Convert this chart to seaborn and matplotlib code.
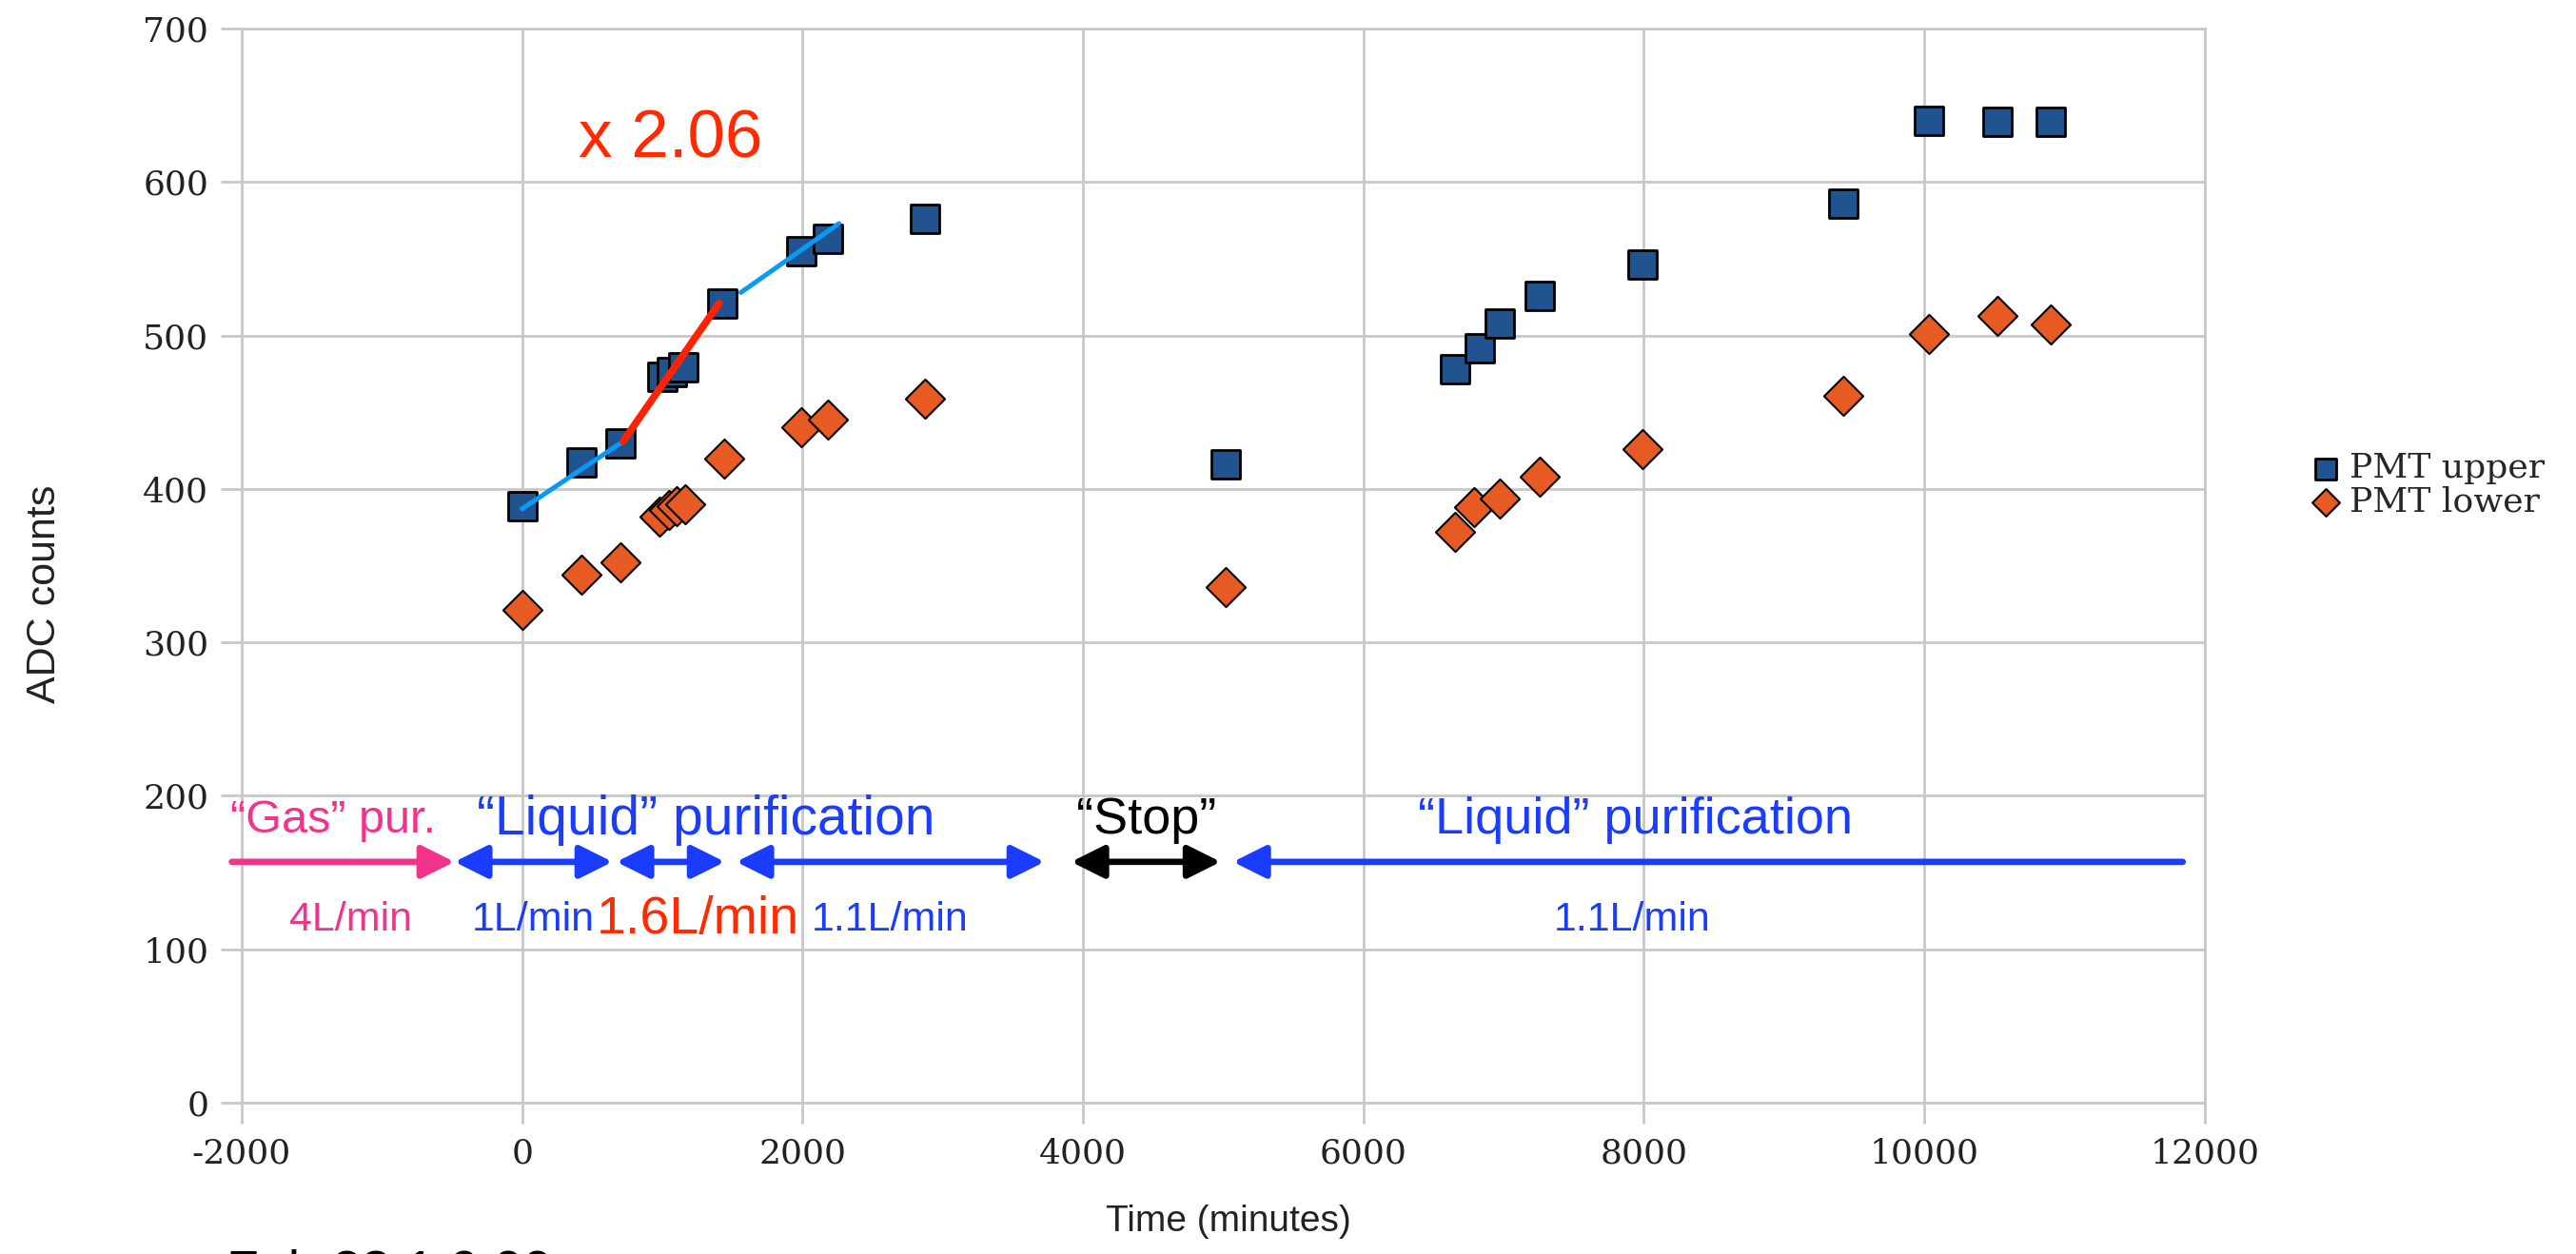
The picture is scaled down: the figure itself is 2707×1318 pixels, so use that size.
import matplotlib
matplotlib.use("Agg")
import matplotlib.pyplot as plt
import pandas as pd
import seaborn as sns

# data
upper_time = [0, 420, 700, 1000, 1070, 1150, 1430, 1990, 2180, 2870, 5020,
              6650, 6830, 6970, 7260, 7990, 9420, 10030, 10520, 10900]
upper_adc = [389, 417, 430, 473, 476, 479, 521, 555, 563, 576, 416,
             478, 492, 508, 526, 546, 586, 640, 639, 639]
lower_time = [0, 420, 700, 980, 1045, 1100, 1160, 1440, 1990, 2180, 2870, 5020,
              6650, 6790, 6970, 7260, 7990, 9420, 10030, 10520, 10900]
lower_adc = [321, 344, 352, 382, 386, 389, 390, 420, 440, 445, 459, 336,
             372, 388, 394, 408, 426, 461, 501, 513, 507]

# hand-drawn slope segments
fit_blue_a_x = [0, 705]
fit_blue_a_y = [387, 430]
fit_red_x = [720, 1405]
fit_red_y = [431, 521]
fit_blue_b_x = [1560, 2260]
fit_blue_b_y = [528, 573]

# phase arrows: (start, end, colour, style)
arrow_y = 157
phase_arrows = [
    (-2070, -482, "#f0348c", "-|>"),
    (-482, 645, "#1a3cff", "<|-|>"),
    (672, 1446, "#1a3cff", "<|-|>"),
    (1527, 3726, "#1a3cff", "<|-|>"),
    (3916, 4982, "black", "<|-|>"),
    (5070, 11843, "#1a3cff", "<|-"),
]
phase_labels = ["\u201cGas\u201d pur.", "\u201cLiquid\u201d purification", "\u201cStop\u201d",
                "\u201cLiquid\u201d purification"]
phase_label_x = [-2080, 1310, 4450, 7940]
phase_label_size = [35, 41, 39, 39]
phase_label_colors = ["#f0348c", "#1a3cff", "black", "#1a3cff"]
flow_labels = ["4L/min", "1L/min", "1.6L/min", "1.1L/min", "1.1L/min"]
flow_x = [-1220, 80, 1255, 2620, 7915]
flow_colors = ["#f0348c", "#1a3cff", "#ff2a00", "#1a3cff", "#1a3cff"]

sns.set_theme(style="whitegrid")
plt.rcParams["font.family"] = ["DejaVu Serif"]
plt.rcParams["axes.unicode_minus"] = False

fig = plt.figure(figsize=(27.07, 13.18), dpi=100)
ax = fig.add_axes([0.0938, 0.1206, 0.7621, 0.8566])

sns.scatterplot(x=upper_time, y=upper_adc, marker="s", color="#21548f", s=470,
                edgecolor="black", linewidth=2, label="PMT upper", ax=ax, zorder=3)
sns.scatterplot(x=lower_time, y=lower_adc, marker="D", color="#e85a24", s=440,
                edgecolor="black", linewidth=1.5, label="PMT lower", ax=ax, zorder=3)

sns.lineplot(x=fit_blue_a_x, y=fit_blue_a_y, color="#0a9af5", lw=3.6, ax=ax, zorder=4)
sns.lineplot(x=fit_red_x, y=fit_red_y, color="#ff2200", lw=5.5, ax=ax, zorder=4)
sns.lineplot(x=fit_blue_b_x, y=fit_blue_b_y, color="#0a9af5", lw=3.6, ax=ax, zorder=4)

ax.set_xlim(-2000, 12000)
ax.set_ylim(0, 700)
ax.set_xticks(range(-2000, 12001, 2000))
ax.set_yticks(range(0, 701, 100))
ax.grid(True, color="#c8c8c8", lw=2)
for sp in ax.spines.values():
    sp.set_color("#c8c8c8")
    sp.set_linewidth(2)
ax.tick_params(axis="both", length=16, width=2, color="#c8c8c8", labelsize=26,
               labelcolor="#222222", direction="out", bottom=True, left=True)
ax.tick_params(axis="y", pad=9)
ax.tick_params(axis="x", pad=10)
ax.set_xlabel("")
ax.set_ylabel("")

sans = ["Liberation Sans", "DejaVu Sans"]
fig.text(0.477, 0.026, "Time (minutes)", family=sans, fontsize=28, ha="center", va="center",
         color="#222222")
fig.text(0.0175, 0.526, "ADC counts", family=sans, fontsize=31, rotation=90,
         ha="center", va="center", color="#222222")

ax.text(400, 627, "x 2.06", family=sans, fontsize=51, color="#ff2a00", va="center")

for x0, x1, col, style in phase_arrows:
    ax.annotate("", xy=(x1, arrow_y), xytext=(x0, arrow_y),
                arrowprops=dict(arrowstyle=style + ",head_length=1.0,head_width=0.5",
                                color=col, lw=4.8, mutation_scale=21,
                                shrinkA=0, shrinkB=0), annotation_clip=False)

for i, lab in enumerate(phase_labels):
    ax.text(phase_label_x[i], 184, lab, family=sans, fontsize=phase_label_size[i],
            color=phase_label_colors[i], ha="left" if i == 0 else "center",
            va="center", clip_on=False)

for lab, x, col in zip(flow_labels, flow_x, flow_colors):
    size = 40 if lab == "1.6L/min" else 31
    ax.text(x, 119, lab, family=sans, fontsize=size, color=col, ha="center", va="center")

ax.get_legend().remove()
handles, labels = ax.get_legend_handles_labels()
fig.legend(handles[:2], labels[:2], loc="center left", bbox_to_anchor=(0.8855, 0.613),
           frameon=False, fontsize=26, markerscale=0.7, handlelength=0.8,
           handletextpad=0.3, labelspacing=0.05)

fig.text(0.088, 0.004, "Feb 23 1:0.00", family=sans, fontsize=40, va="top", color="black")

plt.savefig("out.png", dpi=100)
